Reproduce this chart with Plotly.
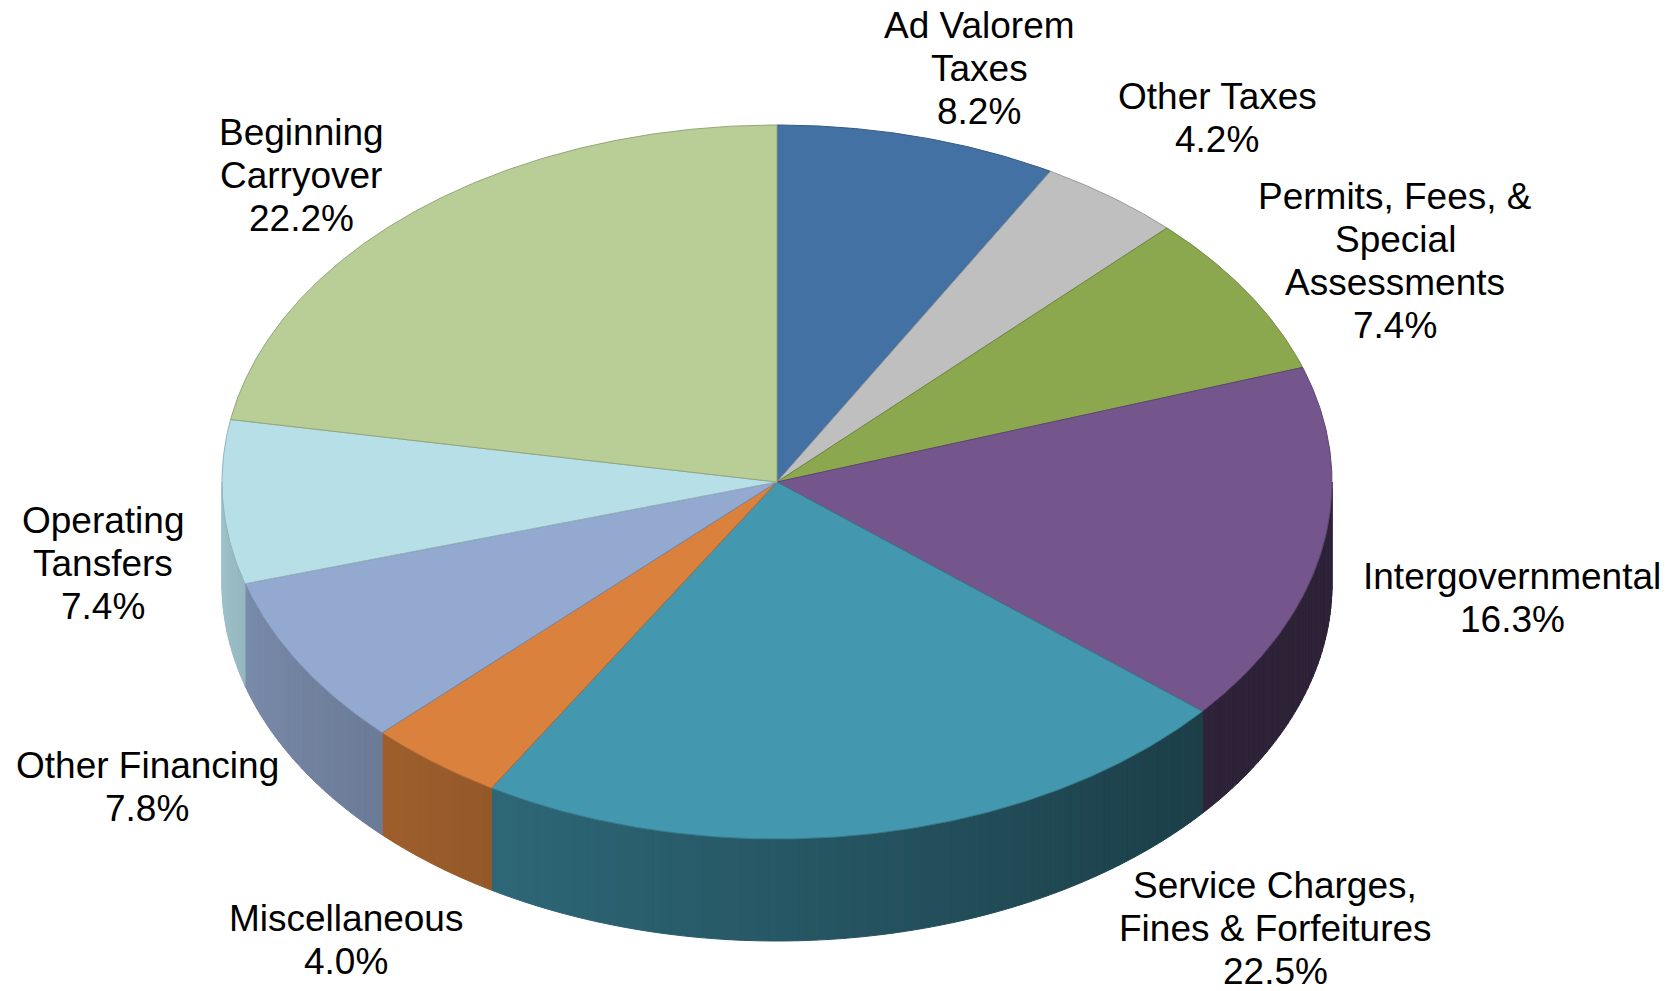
import numpy as np
import plotly.graph_objects as go

# ---------------- data ----------------
categories = ["Ad Valorem Taxes", "Other Taxes", "Permits, Fees, & Special Assessments",
              "Intergovernmental", "Service Charges, Fines & Forfeitures", "Miscellaneous",
              "Other Financing", "Operating Tansfers", "Beginning Carryover"]
label_lines = [["Ad Valorem", "Taxes"], ["Other Taxes"], ["Permits, Fees, &", "Special", "Assessments"],
               ["Intergovernmental"], ["Service Charges,", "Fines & Forfeitures"], ["Miscellaneous"],
               ["Other Financing"], ["Operating", "Tansfers"], ["Beginning", "Carryover"]]
values = [8.2, 4.2, 7.4, 16.3, 22.5, 4.0, 7.8, 7.4, 22.2]

# ---------------- style / layout ----------------
top_colors = ["#4371A4", "#BFBFBF", "#8BA84F", "#74568D", "#4398AF",
              "#DA823D", "#93A9CF", "#B6DFE8", "#B9CE96"]
label_x = [979, 1217, 1395, 1512, 1275, 346, 147, 103, 301]
label_y = [25, 96, 196, 576, 885, 918, 765, 520, 132]
LINE_GAP = 43
CX, CY, RX, RY, DEPTH = 777, 482, 555, 357, 102
FONT = "Liberation Sans, Arial, sans-serif"
W, H = 1679, 991


def hex_rgb(h):
    h = h.lstrip("#")
    return [int(h[i:i + 2], 16) for i in (0, 2, 4)]


def shade(h, f):
    r, g, b = hex_rgb(h)
    return "rgb(%d,%d,%d)" % (round(r * f), round(g * f), round(b * f))


def side_factor(phi):
    t = min(max((phi - 125.0) / (265.0 - 125.0), 0.0), 1.0)
    return 0.39 + 0.47 * t


def ell(phi_deg, dy=0.0):
    p = np.radians(phi_deg)
    return CX + RX * np.sin(p), CY - RY * np.cos(p) + dy


total = sum(values)
bounds = np.concatenate([[0.0], np.cumsum(values)]) / total * 360.0

fig = go.Figure()

# side walls (front half only), shaded strip by strip
for i, col in enumerate(top_colors):
    a1, a2 = bounds[i], bounds[i + 1]
    lo, hi = max(a1, 90.0), min(a2, 270.0)
    if hi <= lo:
        continue
    n = max(1, int(np.ceil((hi - lo) / 1.0)))
    edges = np.linspace(lo, hi, n + 1)
    for j in range(n):
        e0, e1 = edges[j], edges[j + 1]
        angs = np.linspace(e0, e1, 3)
        tx, ty = ell(angs)
        bx, by = ell(angs[::-1], DEPTH)
        xs = list(tx) + list(bx) + [tx[0]]
        ys = list(ty) + list(by) + [ty[0]]
        c = shade(col, side_factor((e0 + e1) / 2))
        fig.add_trace(go.Scatter(x=xs, y=ys, mode="lines", fill="toself", fillcolor=c,
                                 line=dict(color=c, width=1), hoverinfo="skip", showlegend=False))

# top faces
for i, col in enumerate(top_colors):
    a1, a2 = bounds[i], bounds[i + 1]
    angs = np.linspace(a1, a2, max(4, int((a2 - a1) * 3)))
    ax, ay = ell(angs)
    xs = [CX] + list(ax) + [CX]
    ys = [CY] + list(ay) + [CY]
    fig.add_trace(go.Scatter(x=xs, y=ys, mode="lines", fill="toself", fillcolor=col,
                             line=dict(color=shade(col, 0.8), width=1),
                             hoverinfo="skip", showlegend=False, name=categories[i]))

# labels
annotations = []
for i, lines in enumerate(label_lines):
    all_lines = lines + ["%.1f%%" % values[i]]
    for k, txt in enumerate(all_lines):
        annotations.append(dict(x=label_x[i], y=label_y[i] + k * LINE_GAP, xref="x", yref="y",
                                text=txt, showarrow=False, xanchor="center", yanchor="middle",
                                font=dict(family=FONT, size=37, color="black")))

fig.update_layout(
    width=W, height=H,
    margin=dict(l=0, r=0, t=0, b=0),
    paper_bgcolor="white", plot_bgcolor="white",
    xaxis=dict(visible=False, range=[0, W], fixedrange=True),
    yaxis=dict(visible=False, range=[H, 0], fixedrange=True),
    annotations=annotations,
    showlegend=False,
)

fig.write_html("out.html",
               config={"displayModeBar": False, "staticPlot": True},
               post_script="document.body.style.margin='0px';document.body.style.overflow='hidden';")
